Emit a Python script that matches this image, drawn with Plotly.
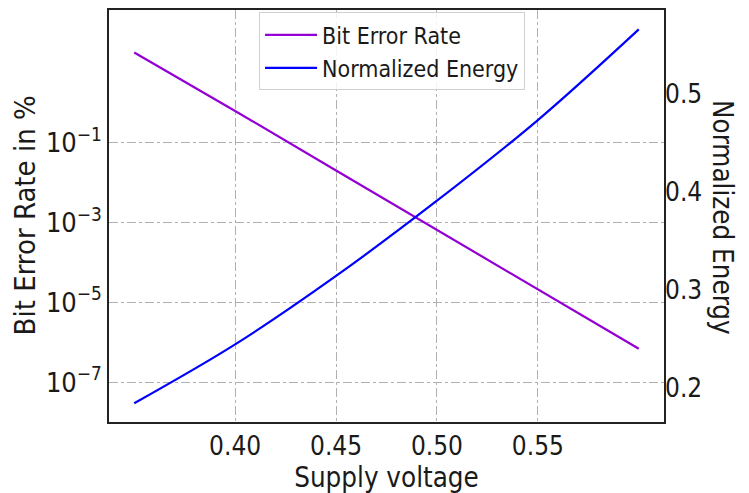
import plotly.graph_objects as go

# Supply voltage sweep (V)
voltage = [0.35, 0.40, 0.45, 0.50, 0.55, 0.60]
# Bit error rate in percent
bit_error_rate = [17.8, 0.615, 0.0199, 6.47e-4, 2.19e-5, 6.87e-7]
# Energy normalized to nominal supply
normalized_energy = [0.1842, 0.2443, 0.3142, 0.391, 0.4733, 0.5659]

x_ticks = [0.40, 0.45, 0.50, 0.55]
ber_tick_exponents = [-7, -5, -3, -1]
energy_ticks = [0.2, 0.3, 0.4, 0.5]

FONT = "DejaVu Sans Condensed, Liberation Sans Narrow, sans-serif"
GRID = "#b0b0b0"
TEXT = "#1a1a1a"

W, H = 749, 493
ML, MR, MT, MB = 109, 85, 8, 71
PW, PH = W - ML - MR, H - MT - MB


def px_to_paper(x, y):
    """Convert a pixel position in the figure to paper coordinates."""
    return (x - ML) / PW, (H - MB - y) / PH


fig = go.Figure()
fig.add_trace(go.Scatter(
    x=voltage, y=bit_error_rate, name="Bit Error Rate", mode="lines",
    line=dict(color="#9400D3", width=2.2), yaxis="y",
))
fig.add_trace(go.Scatter(
    x=voltage, y=normalized_energy, name="Normalized Energy", mode="lines",
    line=dict(color="#0000FF", width=2.2, shape="spline"), yaxis="y2",
))

lx, ly = px_to_paper(25, 214.5)
rx, ry = px_to_paper(723, 216)

fig.update_layout(
    width=W, height=H,
    margin=dict(l=ML, r=MR, t=MT, b=MB),
    paper_bgcolor="white", plot_bgcolor="white",
    font=dict(family=FONT, color=TEXT, size=26),
    showlegend=True,
    legend=dict(
        x=0.51, xanchor="center", y=0.994, yanchor="top",
        bgcolor="rgba(255,255,255,0.85)", bordercolor="#d0d0d0", borderwidth=1,
        font=dict(family=FONT, size=23, color=TEXT), itemwidth=52,
    ),
    xaxis=dict(
        range=[0.3375, 0.6125], tickvals=x_ticks,
        ticktext=[f"{v:.2f}" for v in x_ticks],
        showgrid=True, gridcolor=GRID, griddash="dashdot", gridwidth=1,
        showline=True, linecolor="#222", linewidth=1.5, mirror=True,
        ticks="", zeroline=False, tickfont=dict(size=26),
        title=dict(text="Supply voltage", font=dict(size=27.5), standoff=4),
    ),
    yaxis=dict(
        type="log", range=[-7.996, 2.316],
        tickvals=[10 ** e for e in ber_tick_exponents],
        ticktext=[f"10<sup>\u2212{-e}</sup>" for e in ber_tick_exponents],
        showgrid=True, gridcolor=GRID, griddash="dashdot", gridwidth=1,
        showline=True, linecolor="#222", linewidth=1.5, mirror=True,
        ticks="", zeroline=False, tickfont=dict(size=27),
    ),
    yaxis2=dict(
        overlaying="y", side="right", range=[0.1651, 0.5857],
        tickvals=energy_ticks, ticktext=[f"{v:.1f}" for v in energy_ticks],
        showgrid=False, zeroline=False, ticks="", tickfont=dict(size=26),
    ),
    annotations=[
        dict(text="Bit Error Rate in %", textangle=-90, x=lx, y=ly,
             xref="paper", yref="paper", xanchor="center", yanchor="middle",
             showarrow=False, font=dict(size=29)),
        dict(text="Normalized Energy", textangle=90, x=rx, y=ry,
             xref="paper", yref="paper", xanchor="center", yanchor="middle",
             showarrow=False, font=dict(size=27.5)),
    ],
)

fig.write_html("out.html")
